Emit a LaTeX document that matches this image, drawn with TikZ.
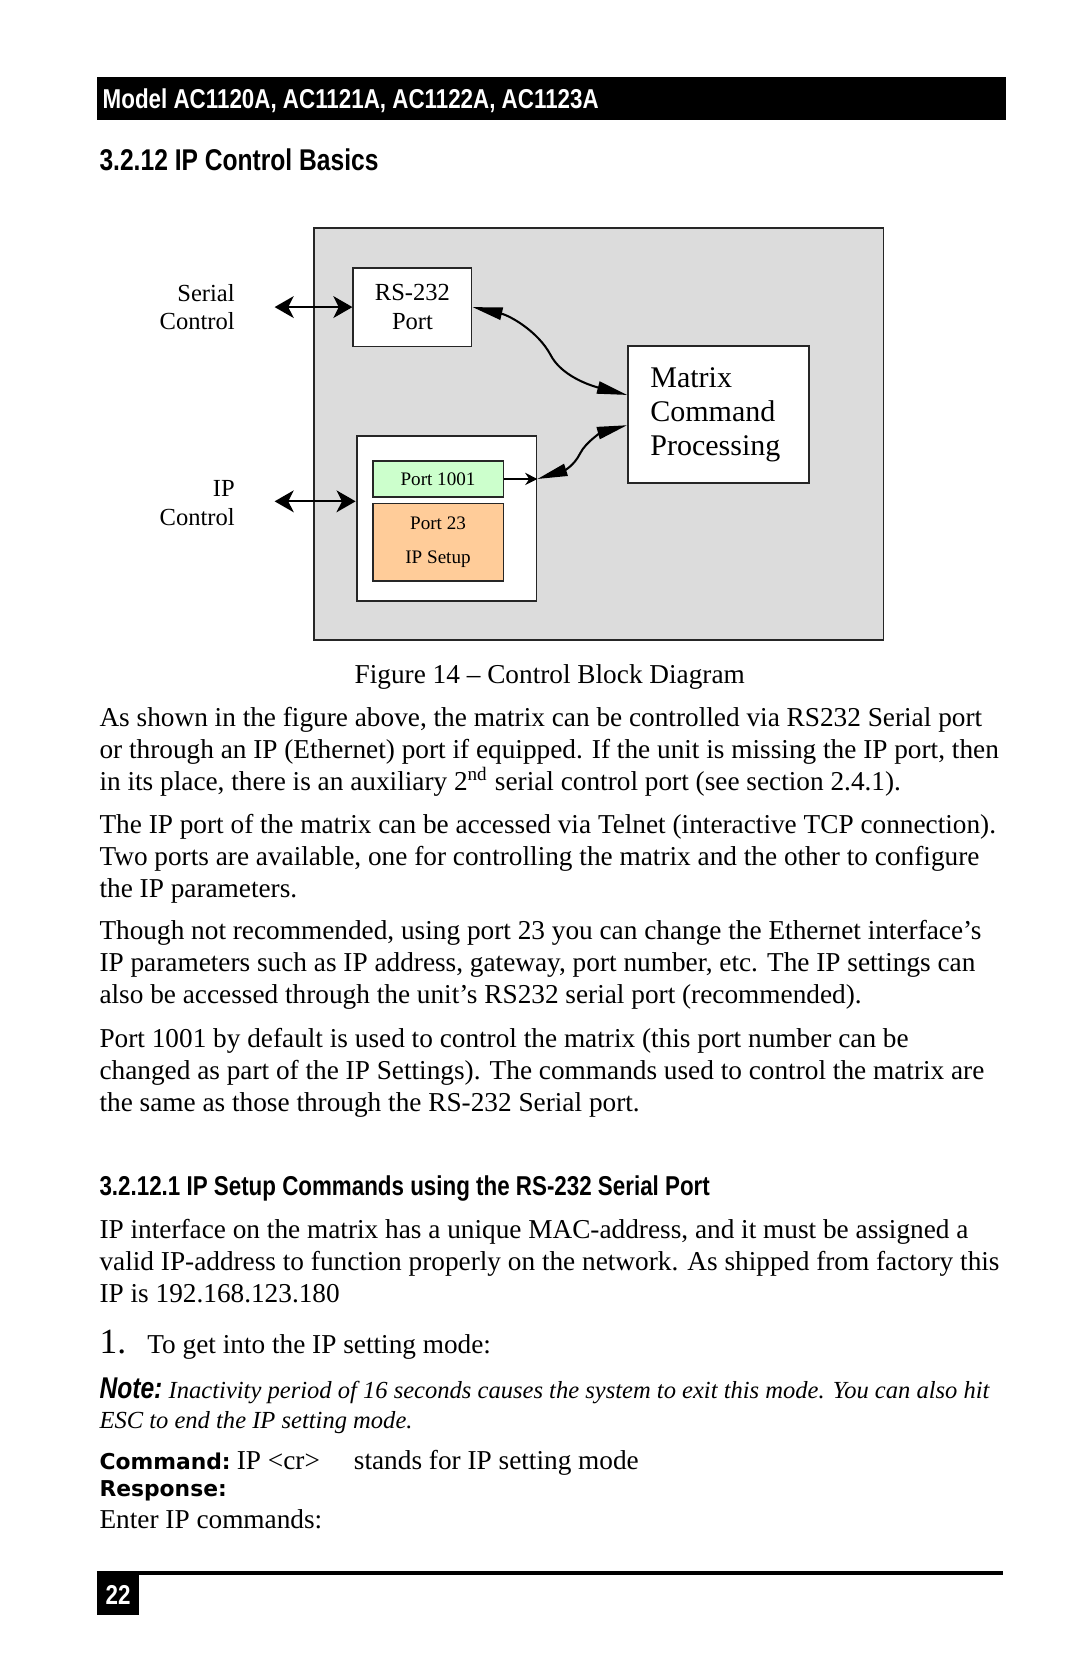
\documentclass[tikz,border=0pt]{standalone}
\usepackage{graphicx}
\usepackage{fontspec}
\setmainfont{Liberation Serif}
\newfontfamily\headfamily{Liberation Sans}
\newfontfamily\cmdfamily{DejaVu Sans}
\usetikzlibrary{arrows.meta,positioning}

\newlength\unitpx
\setlength\unitpx{0.3902pt}
\newcommand\bodyfont{\fontsize{10}{11.7}\selectfont}
\newcommand\headfont{\fontsize{10}{12}\selectfont\headfamily\bfseries}
\newcommand\narrowtxt[1]{\scalebox{0.82}[1]{#1}}
\definecolor{panelgray}{RGB}{220,220,220}
\definecolor{portgreen}{RGB}{204,255,204}
\definecolor{portorange}{RGB}{255,204,153}

\tikzset{
	txtline/.style={anchor=base west, inner sep=0pt, font=\bodyfont},
	blk/.style={draw=black!85, line width=0.7pt, fill=white, inner sep=0pt},
	dbl/.style={{Stealth[length=7pt,width=8pt,inset=2pt]}-{Stealth[length=7pt,width=8pt,inset=2pt]}, line width=0.75pt},
	wave/.style={{Triangle[length=11pt,width=4.5pt]}-{Triangle[length=11pt,width=4.5pt]}, line width=0.75pt},
	lbl/.style={anchor=east, inner sep=0pt, align=right, font=\fontsize{9}{10.5}\selectfont},
}

\begin{document}
\begin{tikzpicture}[x=0.3902pt, y=-0.3902pt]
\path[fill=white, use as bounding box] (0,0) rectangle (1015,1568);

% page header
\node[fill=black, inner sep=0pt, minimum width=854\unitpx, minimum height=40\unitpx, anchor=north west] (hdr) at (91,72) {};
\node[anchor=base west, inner sep=0pt, text=white, font=\headfont] (hdrtxt) at (96,102) {\narrowtxt{Model AC1120A, AC1121A, AC1122A, AC1123A}};
\node[anchor=base west, inner sep=0pt, font=\fontsize{11}{13}\selectfont\headfamily\bfseries] (sec) at (93,160) {\narrowtxt{3.2.12 IP Control Basics}};

% block diagram
\node[blk, fill=panelgray, minimum width=535\unitpx, minimum height=387\unitpx] (sys) at (562.5,407.5) {};
\node[blk, minimum width=111\unitpx, minimum height=74\unitpx, align=center, font=\fontsize{9}{10.5}\selectfont] (rs) at (387.5,288.5) {RS-232\\Port};
\node[blk, minimum width=170\unitpx, minimum height=129\unitpx, text width=128\unitpx, align=left, font=\fontsize{11}{12.5}\selectfont] (mcp) at (675,389.5) {Matrix\\Command\\Processing};
\node[blk, minimum width=169\unitpx, minimum height=155\unitpx] (ipbox) at (419.5,487.5) {};
\node[blk, fill=portgreen, minimum width=123\unitpx, minimum height=34\unitpx, font=\fontsize{7}{8.5}\selectfont] (p1001) at (411.5,450) {Port 1001};
\node[blk, fill=portorange, minimum width=123\unitpx, minimum height=73\unitpx, align=center, font=\fontsize{7}{8.5}\selectfont] (p23) at (411.5,509.5) {Port 23\\[4pt]IP Setup};

\node[lbl] (serlbl) at (221,288.5) {Serial\\Control};
\node[lbl] (iplbl) at (221,472.5) {IP\\Control};
\coordinate (serend) at (258,288.5);
\coordinate (ipend) at (258,471);
\coordinate (pj) at (ipbox.east |- p1001.east);

\draw[dbl] (serend) -- (rs.west);
\draw[dbl] (ipend) -- (ipend -| ipbox.west);
\draw[-{Stealth[length=4.5pt,width=4.5pt,inset=1.5pt]}, line width=0.6pt] (p1001.east) -- (pj);
\draw[wave] (rs.east) .. controls +(35,8) and +(-12,-22) .. (517,333)
	.. controls +(10,20) and +(-35,-9) .. ([yshift=7.2pt]mcp.west);
\draw[wave] (pj) .. controls +(25,-8) and +(-6,12) .. (545,426)
	.. controls +(6,-12) and +(-22,6) .. ([yshift=-3.9pt]mcp.west);

\node[anchor=base, inner sep=0pt, font=\bodyfont] (cap) at (516.5,642) {Figure 14 -- Control Block Diagram};

% body text
\foreach \t [count=\i from 0] in {{As shown in the figure above, the matrix can be controlled via RS232 Serial port},
	{or through an IP (Ethernet) port if equipped. If the unit is missing the IP port, then},
	{in its place, there is an auxiliary 2\textsuperscript{nd} serial control port (see section 2.4.1).}}
	\node[txtline] (pa\i) at (93,{683+30*\i}) {\t};
\foreach \t [count=\i from 0] in {{The IP port of the matrix can be accessed via Telnet (interactive TCP connection).},
	{Two ports are available, one for controlling the matrix and the other to configure},
	{the IP parameters.}}
	\node[txtline] (pb\i) at (93,{783+30*\i}) {\t};
\foreach \t [count=\i from 0] in {{Though not recommended, using port 23 you can change the Ethernet interface’s},
	{IP parameters such as IP address, gateway, port number, etc. The IP settings can},
	{also be accessed through the unit’s RS232 serial port (recommended).}}
	\node[txtline] (pc\i) at (93,{883+30*\i}) {\t};
\foreach \t [count=\i from 0] in {{Port 1001 by default is used to control the matrix (this port number can be},
	{changed as part of the IP Settings). The commands used to control the matrix are},
	{the same as those through the RS-232 Serial port.}}
	\node[txtline] (pd\i) at (93,{984+30*\i}) {\t};

\node[anchor=base west, inner sep=0pt, font=\headfont] (subsec) at (93,1123) {\narrowtxt{3.2.12.1 IP Setup Commands using the RS-232 Serial Port}};
\foreach \t [count=\i from 0] in {{IP interface on the matrix has a unique MAC-address, and it must be assigned a},
	{valid IP-address to function properly on the network. As shipped from factory this},
	{IP is 192.168.123.180}}
	\node[txtline] (pe\i) at (93,{1164+30*\i}) {\t};

\node[anchor=base west, inner sep=0pt, font=\fontsize{13}{15}\selectfont] (num) at (93,1272) {1.};
\node[txtline] (step) at (138,1272) {To get into the IP setting mode:};
\node[anchor=base west, inner sep=0pt, font=\fontsize{11}{13}\selectfont\headfamily\bfseries\itshape] (notehd) at (93,1314) {\narrowtxt{Note:}};
\node[txtline, font=\fontsize{9}{10.5}\selectfont\itshape] (note0) at (158,1314) {Inactivity period of 16 seconds causes the system to exit this mode. You can also hit};
\node[txtline, font=\fontsize{9}{10.5}\selectfont\itshape] (note1) at (93,1342) {ESC to end the IP setting mode.};
\node[anchor=base west, inner sep=0pt, font=\fontsize{8}{10}\selectfont\cmdfamily\bfseries] (cmdhd) at (93,1381) {Command:};
\node[txtline] (cmd) at (222,1381) {IP <cr>};
\node[txtline] (cmdnote) at (332,1381) {stands for IP setting mode};
\node[anchor=base west, inner sep=0pt, font=\fontsize{8}{10}\selectfont\cmdfamily\bfseries] (resphd) at (93,1406) {Response:};
\node[txtline] (resp) at (93,1436) {Enter IP commands:};

% page footer
\node[fill=black, inner sep=0pt, minimum width=39\unitpx, minimum height=39\unitpx, anchor=north west, text=white, font=\headfont] (pgno) at (91,1478) {\narrowtxt{22}};
\coordinate (ruleend) at (942,1478);
\draw[line width=1.3pt] (pgno.north west) -- (ruleend);
\end{tikzpicture}
\end{document}
